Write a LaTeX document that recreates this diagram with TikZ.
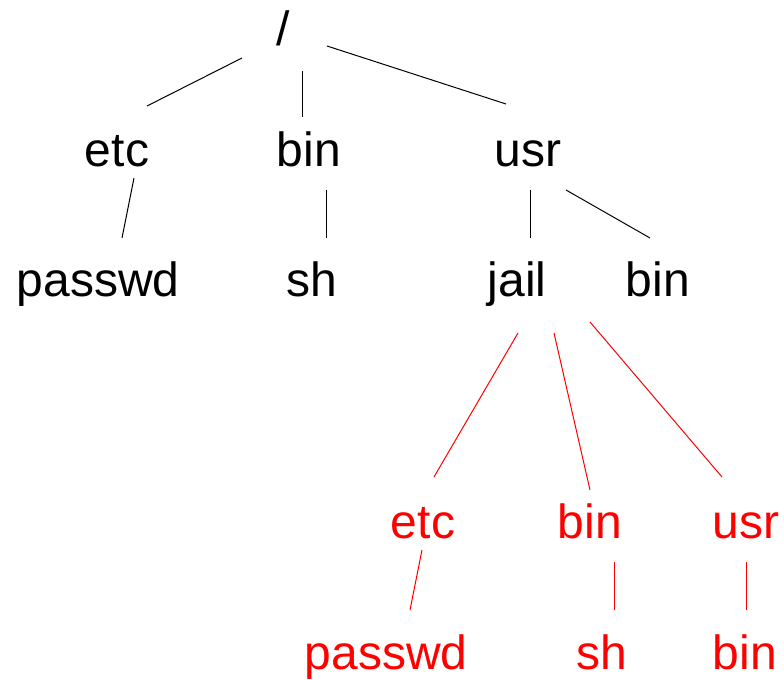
\documentclass[tikz,border=0pt]{standalone}
\usepackage{fontspec}
\setmainfont{Liberation Sans}
\usepackage{tikz}
\usetikzlibrary{positioning}
\usepackage{xcolor}

\begin{document}
\begin{tikzpicture}[x=0.75pt, y=-0.75pt,
    dir/.style={inner sep=0pt, anchor=base, font=\fontsize{36}{40}\selectfont},
    jaildir/.style={dir, text=red},
    link/.style={line width=0.75pt},
    jaillink/.style={link, draw=red}]
    \useasboundingbox (0,0) rectangle (784,680);

    % the real file system
    \node[dir] (root) at (283,46) {/};
    \node[dir] (etc) at (117,167) {etc};
    \node[dir] (bin) at (309,167) {bin};
    \node[dir] (usr) at (528,167) {usr};
    \node[dir] (passwd) at (98,297) {passwd};
    \node[dir] (sh) at (312,297) {sh};
    \node[dir] (jail) at (517,297) {jail};
    \node[dir] (usrbin) at (658,297) {bin};

    % the copy below the jail
    \node[jaildir] (jetc) at (423,538) {etc};
    \node[jaildir] (jbin) at (590,538) {bin};
    \node[jaildir] (jusr) at (746,538) {usr};
    \node[jaildir] (jpasswd) at (386,669) {passwd};
    \node[jaildir] (jsh) at (602,669) {sh};
    \node[jaildir] (jusrbin) at (745,669) {bin};

    \draw[link] ([shift={(-41,12)}]root.base) -- ([shift={(30,-61)}]etc.base);
    \draw[link] ([shift={(19,25)}]root.base) -- ([shift={(-7,-50)}]bin.base);
    \draw[link] ([shift={(44,0)}]root.base) -- ([shift={(-22,-63)}]usr.base);
    \draw[link] ([shift={(17,11)}]etc.base) -- ([shift={(24,-59)}]passwd.base);
    \draw[link] ([shift={(17,23)}]bin.base) -- ([shift={(14,-59)}]sh.base);
    \draw[link] ([shift={(2,23)}]usr.base) -- ([shift={(13,-59)}]jail.base);
    \draw[link] ([shift={(38,23)}]usr.base) -- ([shift={(-8,-59)}]usrbin.base);

    % red: what the jailed process sees
    \draw[jaillink] ([shift={(1,36)}]jail.base) -- ([shift={(11,-61)}]jetc.base);
    \draw[jaillink] ([shift={(37,36)}]jail.base) -- ([shift={(0,-48)}]jbin.base);
    \draw[jaillink] ([shift={(73,25)}]jail.base) -- ([shift={(-24,-61)}]jusr.base);
    \draw[jaillink] ([shift={(-1,12)}]jetc.base) -- ([shift={(24,-59)}]jpasswd.base);
    \draw[jaillink] ([shift={(24,24)}]jbin.base) -- ([shift={(12,-59)}]jsh.base);
    \draw[jaillink] ([shift={(0,24)}]jusr.base) -- ([shift={(1,-59)}]jusrbin.base);
\end{tikzpicture}
\end{document}
